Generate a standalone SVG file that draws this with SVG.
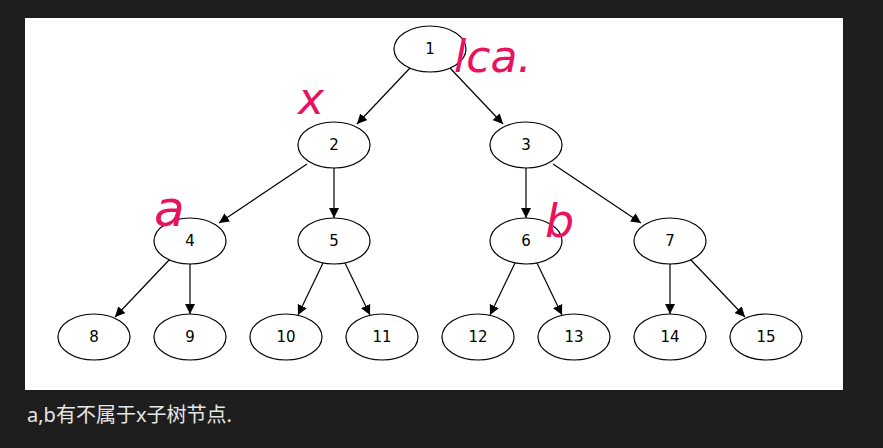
<svg xmlns="http://www.w3.org/2000/svg" width="883" height="448" viewBox="0 0 883 448">
<style>
.n ellipse{fill:#fff;stroke:#000;stroke-width:1.2}
.n text{font-family:"DejaVu Sans",sans-serif;font-size:15px;text-anchor:middle;fill:#000}
#edges line{stroke:#000;stroke-width:1.2;marker-end:url(#ah)}
.h{font-family:"DejaVu Sans",sans-serif;fill:#e8125f;font-style:italic}
</style>
<defs><marker id="ah" viewBox="0 0 10 10" refX="10" refY="5" markerWidth="10" markerHeight="10" markerUnits="userSpaceOnUse" orient="auto"><path d="M0,0L10,5L0,10z" fill="#000"/></marker></defs>
<rect width="883" height="448" fill="#1e1e1e"/>
<rect x="25" y="18" width="818" height="372" fill="#fff"/>
<g id="edges">
<line x1="410" y1="68" x2="357" y2="124"/>
<line x1="450" y1="68" x2="503" y2="124"/>
<line x1="307" y1="164" x2="219" y2="223"/>
<line x1="334" y1="168" x2="334" y2="218"/>
<line x1="526" y1="168" x2="526" y2="218"/>
<line x1="553" y1="164" x2="641" y2="223"/>
<line x1="170" y1="259" x2="115" y2="317"/>
<line x1="190" y1="264" x2="190" y2="314"/>
<line x1="323" y1="263" x2="298" y2="315"/>
<line x1="345" y1="263" x2="370" y2="315"/>
<line x1="515" y1="263" x2="490" y2="315"/>
<line x1="537" y1="263" x2="562" y2="315"/>
<line x1="670" y1="264" x2="670" y2="314"/>
<line x1="690" y1="259" x2="745" y2="317"/>
</g>
<g id="n1" class="n"><ellipse cx="430" cy="49" rx="36" ry="23"/><text x="430" y="54">1</text></g>
<g id="n2" class="n"><ellipse cx="334" cy="145" rx="36" ry="23"/><text x="334" y="150">2</text></g>
<g id="n3" class="n"><ellipse cx="526" cy="145" rx="36" ry="23"/><text x="526" y="150">3</text></g>
<g id="n4" class="n"><ellipse cx="190" cy="241" rx="36" ry="23"/><text x="190" y="246">4</text></g>
<g id="n5" class="n"><ellipse cx="334" cy="241" rx="36" ry="23"/><text x="334" y="246">5</text></g>
<g id="n6" class="n"><ellipse cx="526" cy="241" rx="36" ry="23"/><text x="526" y="246">6</text></g>
<g id="n7" class="n"><ellipse cx="670" cy="241" rx="36" ry="23"/><text x="670" y="246">7</text></g>
<g id="n8" class="n"><ellipse cx="94" cy="337" rx="36" ry="23"/><text x="94" y="342">8</text></g>
<g id="n9" class="n"><ellipse cx="190" cy="337" rx="36" ry="23"/><text x="190" y="342">9</text></g>
<g id="n10" class="n"><ellipse cx="286" cy="337" rx="36" ry="23"/><text x="286" y="342">10</text></g>
<g id="n11" class="n"><ellipse cx="382" cy="337" rx="36" ry="23"/><text x="382" y="342">11</text></g>
<g id="n12" class="n"><ellipse cx="478" cy="337" rx="36" ry="23"/><text x="478" y="342">12</text></g>
<g id="n13" class="n"><ellipse cx="574" cy="337" rx="36" ry="23"/><text x="574" y="342">13</text></g>
<g id="n14" class="n"><ellipse cx="670" cy="337" rx="36" ry="23"/><text x="670" y="342">14</text></g>
<g id="n15" class="n"><ellipse cx="766" cy="337" rx="36" ry="23"/><text x="766" y="342">15</text></g>
<text class="h" x="454" y="72" font-size="44">lca.</text>
<text class="h" x="298" y="114" font-size="44">x</text>
<text class="h" x="154" y="226" font-size="50">a</text>
<text class="h" x="545" y="237" font-size="46">b</text>
<text x="27" y="422" font-family="'Noto Sans','Noto Sans CJK SC',sans-serif" font-size="20" fill="#e6e6e6">a,b有不属于x子树节点.</text>
</svg>
